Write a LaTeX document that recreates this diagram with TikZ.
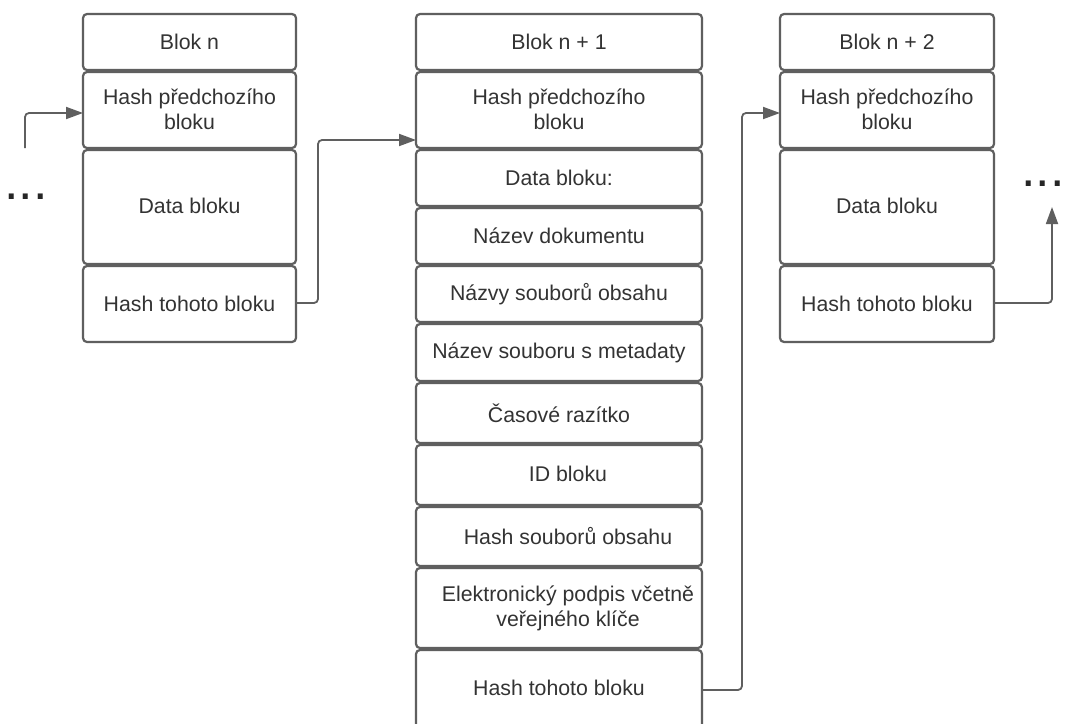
\documentclass[tikz,border=0pt]{standalone}
\usepackage{fontspec}
\setmainfont{Liberation Sans}
\usetikzlibrary{arrows.meta}
\definecolor{bordergray}{RGB}{95,95,95}
\definecolor{textgray}{RGB}{51,51,51}
\begin{document}
\begin{tikzpicture}[x=1pt,y=-1pt,
  cell/.style={draw=bordergray, line width=2.2pt, rounded corners=4pt, fill=white,
    inner sep=0pt, outer sep=0pt, align=center, text=textgray,
    font=\fontsize{21.3}{25}\selectfont},
  conn/.style={draw=bordergray, line width=1.8pt, rounded corners=4pt,
    -{Triangle[length=17pt,width=12pt]}},
  dots/.style={text=black!85, font=\fontsize{52}{54}\selectfont, inner sep=0pt}
]
\useasboundingbox (0,0) rectangle (1065,723);
\fill[white] (0,0) rectangle (1065,723);

% helper: box from top y1 to bottom y2 with left xl and right xr
\newcommand{\cellbox}[6]{%
  \node[cell, minimum width={#3-#2}, minimum height={#5-#4}] (#1) at ({(#2+#3)/2},{(#4+#5)/2}) {#6};}

% left column
\cellbox{L1}{83}{296}{14}{70}{\raisebox{1pt}{Blok n}}
\cellbox{L2}{83}{296}{72}{148}{\raisebox{2pt}{\shortstack{Hash předchozího\\[2pt]bloku}}}
\cellbox{L3}{83}{296}{150}{264}{\raisebox{3pt}{Data bloku}}
\cellbox{L4}{83}{296}{266}{342}{\raisebox{1pt}{Hash tohoto bloku}}

% middle column
\cellbox{M1}{416}{702}{14}{70}{\raisebox{1pt}{Blok n + 1}}
\cellbox{M2}{416}{702}{72}{148}{\raisebox{2pt}{\shortstack{Hash předchozího\\[2pt]bloku}}}
\cellbox{M3}{416}{702}{150}{206}{Data bloku:}
\cellbox{M4}{416}{702}{208}{264}{\raisebox{1pt}{Název dokumentu}}
\cellbox{M5}{416}{702}{266}{322}{\raisebox{1pt}{Názvy souborů obsahu}}
\cellbox{M6}{416}{702}{324}{381}{Název souboru s metadaty}
\cellbox{M7}{416}{702}{383}{443}{Časové razítko}
\cellbox{M8}{416}{702}{445}{505}{\hspace*{18pt}\raisebox{2pt}{ID bloku}}
\cellbox{M9}{416}{702}{507}{566}{\hspace*{18pt}\raisebox{2pt}{Hash souborů obsahu}}
\cellbox{M10}{416}{702}{568}{648}{\hspace*{18pt}Elektronický podpis včetně\\\hspace*{18pt}veřejného klíče}
\cellbox{M11}{416}{702}{650}{730}{\raisebox{4pt}{Hash tohoto bloku}}

% right column
\cellbox{R1}{780}{994}{14}{70}{\raisebox{1pt}{Blok n + 2}}
\cellbox{R2}{780}{994}{72}{148}{\raisebox{2pt}{\shortstack{Hash předchozího\\[2pt]bloku}}}
\cellbox{R3}{780}{994}{150}{264}{\raisebox{3pt}{Data bloku}}
\cellbox{R4}{780}{994}{266}{342}{\raisebox{1pt}{Hash tohoto bloku}}

% ellipses
\node[dots] (dl) at (26,197) {...};
\node[dots] (dr) at (1043,184) {...};

% connectors
\coordinate (inL) at (25,148);
\coordinate (outR) at (1052,207);
\draw[conn] (inL) |- ([yshift=-3pt]L2.west);
\draw[conn] ([yshift=1pt]L4.east) -- ++(22,0) |- ([yshift=-30pt]M2.west);
\draw[conn] (M11.east) -- ++(40,0) |- ([yshift=-3pt]R2.west);
\draw[conn] ([yshift=1pt]R4.east) -| (outR);
\end{tikzpicture}
\end{document}
